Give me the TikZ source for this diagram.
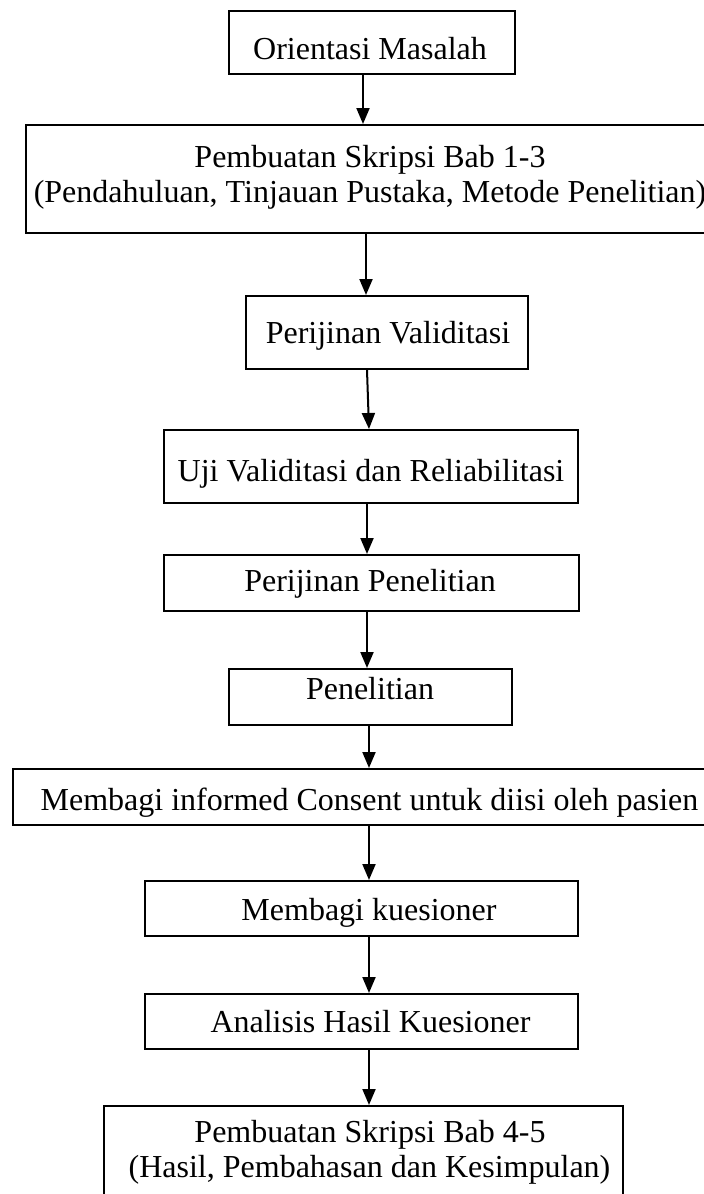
\documentclass[tikz,border=0pt]{standalone}
\usepackage{fontspec}
\setmainfont{Liberation Serif}
\usetikzlibrary{arrows.meta}
\tikzset{
  box/.style={draw=black, line width=2pt, rectangle, inner sep=0pt, fill=none},
  txt/.style={inner sep=0pt, anchor=base, font=\fontsize{32}{38}\selectfont},
  arr/.style={line width=2pt, -{Triangle[length=16pt,width=13pt]}}
}
\begin{document}
\begin{tikzpicture}[x=1pt,y=-1pt]
\useasboundingbox (0,0) rectangle (704,1194);
\clip (0,0) rectangle (704,1194);
\fill[white] (0,0) rectangle (704,1194);
% boxes
\node[box, minimum width=286pt, minimum height=63pt]  (b1)  at (372,42.5) {};
\node[box, minimum width=688pt, minimum height=108pt] (b2)  at (370,179) {};
\node[box, minimum width=282pt, minimum height=73pt]  (b3)  at (387,332.5) {};
\node[box, minimum width=414pt, minimum height=73pt]  (b4)  at (371,466.5) {};
\node[box, minimum width=415pt, minimum height=56pt]  (b5)  at (371.5,583) {};
\node[box, minimum width=283pt, minimum height=56pt]  (b6)  at (370.5,697) {};
\node[box, minimum width=713pt, minimum height=56pt]  (b7)  at (369.5,797) {};
\node[box, minimum width=433pt, minimum height=55pt]  (b8)  at (361.5,908.5) {};
\node[box, minimum width=433pt, minimum height=55pt]  (b9)  at (361.5,1021.5) {};
\node[box, minimum width=519pt, minimum height=134pt] (b10) at (363.5,1173) {};
% texts
\node[txt] (t1)  at (370,59)   {Orientasi Masalah};
\node[txt] (t2a) at (370,167)  {Pembuatan Skripsi Bab 1-3};
\node[txt] (t2b) at (370,202)  {(Pendahuluan, Tinjauan Pustaka, Metode Penelitian)};
\node[txt] (t3)  at (388,343)  {Perijinan Validitasi};
\node[txt] (t4)  at (371,481)  {Uji Validitasi dan Reliabilitasi};
\node[txt] (t5)  at (370,591)  {Perijinan Penelitian};
\node[txt] (t6)  at (370,699)  {Penelitian};
\node[txt] (t7)  at (369.5,810) {Membagi informed Consent untuk diisi oleh pasien};
\node[txt] (t8)  at (369,920)  {Membagi kuesioner};
\node[txt] (t9)  at (370.5,1032) {Analisis Hasil Kuesioner};
\node[txt] (t10a) at (370,1142) {Pembuatan Skripsi Bab 4-5};
\node[txt] (t10b) at (369.5,1177) {(Hasil, Pembahasan dan Kesimpulan)};
% connectors
\draw[arr] ([xshift=-9pt]b1.south) -- ([xshift=-7pt]b2.north);
\draw[arr] ([xshift=-4pt]b2.south) -- ([xshift=-21pt]b3.north);
\draw[arr] ([xshift=-20pt]b3.south) -- ([xshift=-2pt]b4.north);
\draw[arr] ([xshift=-4pt]b4.south) -- ([xshift=-4.5pt]b5.north);
\draw[arr] ([xshift=-4.5pt]b5.south) -- ([xshift=-3.5pt]b6.north);
\draw[arr] ([xshift=-1.5pt]b6.south) -- ([xshift=-0.5pt]b7.north);
\draw[arr] ([xshift=-0.5pt]b7.south) -- ([xshift=7.5pt]b8.north);
\draw[arr] ([xshift=7.5pt]b8.south) -- ([xshift=7.5pt]b9.north);
\draw[arr] ([xshift=7.5pt]b9.south) -- ([xshift=5.5pt]b10.north);
\end{tikzpicture}
\end{document}
